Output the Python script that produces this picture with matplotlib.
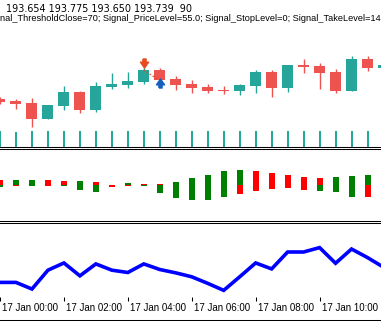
import numpy as np
import matplotlib
matplotlib.use('Agg')
import matplotlib.pyplot as plt
from matplotlib.path import Path
from matplotlib.transforms import ScaledTranslation

# M30 bars, 17 Jan 00:00 .. 12:00
opens  = [193.310, 193.290, 193.270, 193.113, 193.243, 193.380, 193.203, 193.433, 193.453, 193.483,
          193.600, 193.510, 193.460, 193.430, 193.400, 193.393, 193.443, 193.580, 193.423, 193.653,
          193.640, 193.580, 193.393, 193.710, 193.623]
highs  = [193.330, 193.310, 193.320, 193.250, 193.440, 193.390, 193.480, 193.570, 193.580, 193.630,
          193.620, 193.540, 193.500, 193.460, 193.440, 193.460, 193.600, 193.600, 193.650, 193.710,
          193.670, 193.610, 193.740, 193.740, 193.680]
lows   = [193.260, 193.210, 193.033, 193.113, 193.203, 193.173, 193.183, 193.413, 193.423, 193.463,
          193.503, 193.403, 193.373, 193.373, 193.363, 193.353, 193.373, 193.333, 193.383, 193.573,
          193.413, 193.373, 193.393, 193.593, 193.610]
closes = [193.283, 193.263, 193.113, 193.250, 193.380, 193.203, 193.440, 193.460, 193.490, 193.600,
          193.503, 193.453, 193.423, 193.393, 193.390, 193.450, 193.580, 193.423, 193.650, 193.633,
          193.573, 193.393, 193.710, 193.623, 193.653]
volumes = [2150, 2010, 2160, 2150, 2160, 2170, 2160, 2150, 2160, 2160, 2170, 2160, 2160,
           2150, 2160, 2160, 2170, 2160, 2150, 2160, 2160, 2170, 2160, 2160, 2160]

# trade marks
sell_bar, sell_price = 9, 193.675
buy_bar, buy_price = 10, 193.470

# signal histogram: part above zero and part below zero, with colours
hist_up   = [5, 5, 5, 5, 4, 4, 3, 0, 2, 1, 1, 3, 7, 10, 14, 15, 14, 12, 10, 8, 7, 8, 9, 10, 13]
hist_down = [2, 1, 1, 1, 1, 5, 7, 2, 1, 1, 8, 13, 15, 15, 12, 9, 6, 4, 3, 5, 6, 7, 12, 12, 7]
up_col    = 'rggrrgr-grrgggggrrrrrgggg'
down_col  = 'grgrgggrrggggggrrrrrgggrr'

# oscillator in bottom window
osc = [19.6, 19.6, 10.7, 36.0, 45.7, 28.4, 44.4, 36.0, 32.9, 44.4, 36.9, 32.4, 27.1,
       18.3, 8.9, 27.1, 45.7, 37.7, 60.4, 60.4, 66.3, 45.3, 64.4, 52.9, 40.0]

time_ticks = [0, 4, 8, 12, 16, 20]
time_labels = ['17 Jan 00:00', '17 Jan 02:00', '17 Jan 04:00', '17 Jan 06:00',
               '17 Jan 08:00', '17 Jan 10:00']

header1 = '193.654 193.775 193.650 193.739  90'
header2 = 'nal_ThresholdClose=70; Signal_PriceLevel=55.0; Signal_StopLevel=0; Signal_TakeLevel=14'

W, H = 381, 321
UP = '#26A69A'
DOWN = '#EF5350'
plt.rcParams['font.family'] = ['Liberation Sans', 'DejaVu Sans']

fig = plt.figure(figsize=(W / 100, H / 100), dpi=100)

def rect(top, bottom):
    return [0, 1 - bottom / H, 1, (bottom - top) / H]

xlim = (0.03125, 23.84375)
x = np.arange(len(opens))

# main window
ax = fig.add_axes(rect(0, 146.5))
ax.set_xlim(xlim)
ax.set_ylim(194.300 - 146.5 / 100, 194.300)
axv = ax.twinx()
axv.set_ylim(0, max(volumes) * 146.5 / 15.5)
axv.bar(x, volumes, width=0.125, color=UP, zorder=1)
axv.set_axis_off()

o = np.array(opens); c = np.array(closes)
cols = [UP if cc > oo else DOWN for oo, cc in zip(o, c)]
ax.vlines(x, lows, highs, color=cols, lw=1.0, zorder=2)
bh = np.maximum(np.abs(c - o), 0.01)
ax.bar(x, bh, bottom=np.minimum(o, c), width=0.6875, color=cols, zorder=3)
ax.set_zorder(axv.get_zorder() + 1)
ax.patch.set_visible(False)

# trade arrows
down_arrow = Path([(-0.35, 1), (0.35, 1), (0.35, 0.3), (0.9, 0.3), (0, -1), (-0.9, 0.3), (-0.35, 0.3), (-0.35, 1)])
up_arrow = Path([(px, -py) for px, py in down_arrow.vertices])
ax.plot([sell_bar], [sell_price], marker=down_arrow, ms=6.5, color='#E8491D', zorder=5, lw=0)
ax.plot([buy_bar], [buy_price], marker=up_arrow, ms=6.5, color='#1560BD', zorder=5, lw=0)
ax.plot([sell_bar, buy_bar - 0.05], [193.600, 193.500], ls=':', lw=1, color='#E8491D', zorder=4)

for s in ['top', 'left', 'right']:
    ax.spines[s].set_visible(False)
ax.spines['bottom'].set_linewidth(0.75)
ax.set_xticks([]); ax.set_yticks([])

fig.text(6 / W, 1 - 8.5 / H, header1, fontsize=6.9, va='center', ha='left', family='DejaVu Sans')
fig.text(0, 1 - 18.5 / H, header2, fontsize=6.55, va='center', ha='left')

# histogram window
ax2 = fig.add_axes(rect(148.5, 220.5))
ax2.set_xlim(xlim)
ax2.set_ylim(-35.5, 36.5)
cmap = {'g': '#008000', 'r': '#FF0000', '-': 'none'}
ax2.bar(x, hist_up, width=0.375, color=[cmap[k] for k in up_col])
ax2.bar(x, [-v for v in hist_down], width=0.375, color=[cmap[k] for k in down_col])
ax2.spines['left'].set_visible(False)
ax2.spines['right'].set_visible(False)
ax2.spines['top'].set_linewidth(0.75)
ax2.spines['bottom'].set_linewidth(0.75)
ax2.set_xticks([]); ax2.set_yticks([])

# oscillator window
ax3 = fig.add_axes(rect(222.5, 297))
ax3.set_xlim(xlim)
ax3.set_ylim(0, 100)
ax3.plot(x, osc, color='#0000FF', lw=2.6, solid_joinstyle='miter')
for s in ['left', 'right', 'bottom']:
    ax3.spines[s].set_visible(False)
ax3.spines['top'].set_linewidth(0.75)
ax3.set_yticks([])
ax3.set_xticks(time_ticks)
ax3.set_xticklabels(time_labels, fontsize=7)
ax3.tick_params(axis='x', direction='out', length=3, width=0.75, pad=1.5)
for lbl in ax3.get_xticklabels():
    lbl.set_horizontalalignment('left')
    lbl.set_transform(lbl.get_transform() + ScaledTranslation(2 / 100, 0, fig.dpi_scale_trans))

fig.add_artist(plt.Line2D([0, 1], [1 - 319.5 / H, 1 - 319.5 / H], color='black', lw=0.75))

fig.savefig('out.png', dpi=100)
